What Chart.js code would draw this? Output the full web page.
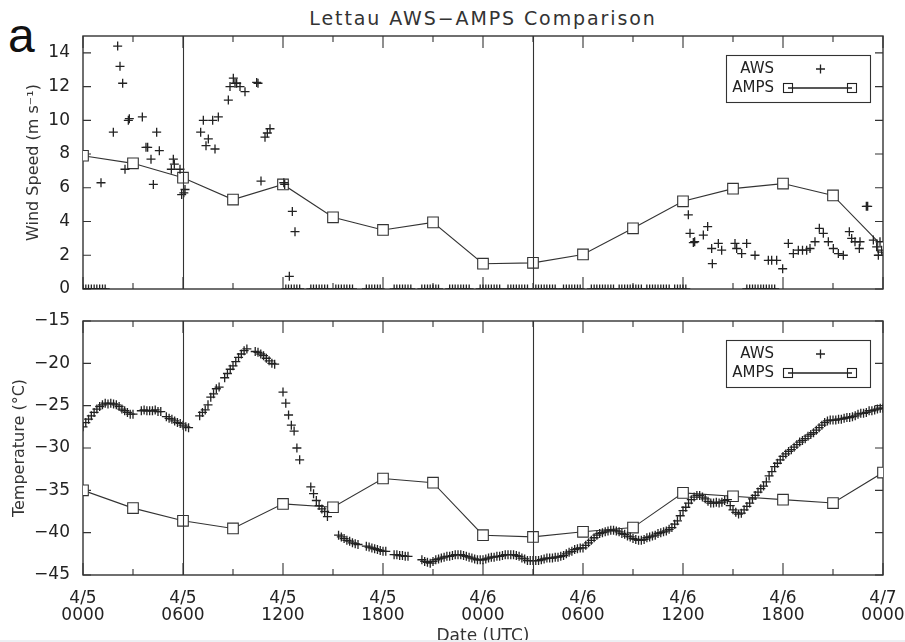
<!DOCTYPE html>
<html>
<head>
<meta charset="utf-8">
<script src="https://cdn.jsdelivr.net/npm/chart.js@4.4.0/dist/chart.umd.min.js"></script>
<style>
  body { margin: 0; background: #fff; width: 905px; height: 642px; overflow: hidden; position: relative; }
  #panel-letter { position: absolute; left: 8px; top: 12px; font: 48px/48px "Liberation Sans", sans-serif; color: #111; }
  #plot-title { position: absolute; left: 83px; width: 800px; top: 9px; text-align: center;
    font: 19px/19px "DejaVu Sans", sans-serif; letter-spacing: 1.9px; color: #333; }
  canvas { position: absolute; left: 0; }
  #wind-chart { top: 0; }
  #temp-chart { top: 305px; }
  #bottom-strip { position: absolute; left: 0; top: 640px; width: 905px; height: 2px; background: #eceff3; }
</style>
</head>
<body>
<div id="panel-letter">a</div>
<div id="plot-title">Lettau AWS−AMPS Comparison</div>
<canvas id="wind-chart" width="905" height="300"></canvas>
<canvas id="temp-chart" width="905" height="345"></canvas>
<div id="bottom-strip"></div>
<script>
// hours since 4/5 0000 UTC
const majorHours = [0, 6, 12, 18, 24, 30, 36, 42, 48];
const minorHours = [3, 9, 15, 21, 27, 33, 39, 45];
const dateLabels = [
  ["4/5", "0000"], ["4/5", "0600"], ["4/5", "1200"], ["4/5", "1800"],
  ["4/6", "0000"], ["4/6", "0600"], ["4/6", "1200"], ["4/6", "1800"], ["4/7", "0000"],
];
const dividerHours = [6, 27];
const windTicks = [0, 2, 4, 6, 8, 10, 12, 14];
const tempTicks = [-45, -40, -35, -30, -25, -20, -15];

// AMPS output every 3 h
const ampsHours = [0, 3, 6, 9, 12, 15, 18, 21, 24, 27, 30, 33, 36, 39, 42, 45, 48];
const ampsWind = [7.9, 7.45, 6.6, 5.3, 6.2, 4.25, 3.5, 3.95, 1.5, 1.55, 2.05, 3.6, 5.2, 5.95, 6.25, 5.55, 2.5];
const ampsTemp = [-35.0, -37.1, -38.6, -39.5, -36.6, -37.0, -33.6, -34.1, -40.3, -40.5, -39.9, -39.4, -35.3, -35.7, -36.1, -36.5, -32.9];

// AWS wind, non-calm reports
const awsWindHours = [
  1.08, 1.82, 2.08, 2.22, 2.38, 2.52, 2.72, 2.78, 3.56, 3.78, 3.88, 4.08, 4.22, 4.42, 4.58,
  5.3, 5.42, 5.48, 5.82, 5.92, 6.05, 6.12,
  7.06, 7.22, 7.38, 7.52, 7.78, 7.92, 8.12, 8.72, 8.82, 9.02, 9.12, 9.22, 9.42, 9.72,
  10.42, 10.5, 10.68, 10.92, 11.06, 11.22, 12.05, 12.1, 12.38, 12.56, 12.72,
  36.32, 36.42, 36.62, 36.7, 37.22, 37.48, 37.72, 37.76, 38.12, 38.32, 39.12, 39.22, 39.52, 39.82,
  40.32, 41.12, 41.32, 41.62, 41.98, 42.32, 42.62, 42.92, 43.17, 43.42, 43.62, 43.92, 44.18, 44.42,
  44.72, 45.02, 45.32, 45.62, 45.98, 46.12, 46.32, 46.58, 46.62, 47.0, 47.08, 47.42, 47.62, 47.72,
  47.82, 47.92,
];
const awsWindSpeed = [
  6.3, 9.3, 14.4, 13.2, 12.2, 7.1, 10.0, 10.1, 10.2, 8.4, 8.4, 7.7, 6.2, 9.3, 8.2,
  7.1, 7.7, 7.4, 7.1, 5.6, 5.7, 5.9,
  9.3, 10.0, 8.5, 8.9, 10.0, 8.3, 10.2, 11.2, 12.0, 12.5, 12.2, 12.2, 12.0, 11.7,
  12.25, 12.2, 6.4, 9.0, 9.25, 9.5, 6.3, 6.2, 0.75, 4.6, 3.4,
  4.4, 3.3, 2.75, 2.8, 3.2, 3.7, 2.4, 1.5, 2.7, 2.3, 2.7, 2.4, 2.1, 2.7,
  2.0, 1.7, 1.7, 1.7, 1.2, 2.7, 2.1, 2.3, 2.3, 2.3, 2.4, 2.8, 3.6, 3.3,
  2.8, 2.4, 2.1, 2.0, 3.4, 3.0, 2.8, 2.4, 2.8, 4.9, 4.9, 2.9, 2.5, 2.0,
  2.8, 2.3,
];
// AWS wind, calm (0 m/s) reports
const awsCalmHours = [
  0, 0.17, 0.33, 0.5, 0.67, 0.83, 1.0, 1.17, 1.33,
  12.17, 12.33, 12.5, 12.67, 12.83, 13.0,
  13.67, 13.83, 14.0, 14.17, 14.33, 14.5, 14.67,
  15.17, 15.33, 15.5, 15.67, 15.83, 16.0, 16.17,
  17.0, 17.17, 17.33, 17.5, 17.67, 17.83,
  18.67, 18.83, 19.0, 19.17, 19.33, 19.5, 19.67,
  20.33, 20.5, 20.67, 20.83, 21.0, 21.17, 21.33,
  22.0, 22.17, 22.33, 22.5, 22.67, 22.83, 23.0, 23.17,
  23.83, 24.0, 24.17, 24.33, 24.5, 24.67, 24.83, 25.0,
  25.5, 25.67, 25.83, 26.0, 26.17, 26.33, 26.5, 26.67,
  27.17, 27.33, 27.5, 27.67, 27.83, 28.0, 28.17, 28.33,
  28.83, 29.0, 29.17, 29.33, 29.5, 29.67, 29.83,
  30.5, 30.67, 30.83, 31.0, 31.17, 31.33, 31.5, 31.67, 31.83,
  32.17, 32.33, 32.5, 32.67, 32.83, 33.0, 33.17, 33.33, 33.5,
  33.83, 34.0, 34.17, 34.33, 34.5, 34.67, 34.83, 35.0, 35.17,
  35.5, 35.67, 35.83, 36.0, 36.17,
  39.83, 40.0, 40.17, 40.33, 40.5, 40.67, 40.83, 41.0, 41.17, 41.33, 41.5,
];

// AWS temperature, 10-minute records (null = missing)
const awsTempStep = 1 / 6;
const awsTemp = [
  -27.5, -27.0, -26.6, -26.2, -25.8, -25.4,
  -25.1, -24.9, -24.7, -24.8, -24.7, -24.8,
  -24.9, -25.1, -25.4, -25.6, -25.8, -26.0,
  -26.0, null, null, -25.6, -25.5, -25.6,
  -25.6, -25.6, -25.5, -25.7, -25.7, null,
  -26.3, -26.5, -26.6, -26.8, -27.0, -27.1,
  -27.3, -27.5, -27.6, null, null, null,
  -26.2, -25.8, -25.5, -24.9, -24.0, -23.6,
  -23.0, -22.8, null, -21.7, -21.2, -20.7,
  -20.3, -19.8, -19.3, -18.9, -18.5, -18.3,
  null, null, -18.6, -18.7, -18.9, -19.1,
  -19.4, -19.7, -20.0, -20.1, null, null,
  -23.4, -24.7, -26.1, -27.3, -28.0, -30.0,
  -31.4, null, null, null, -34.6, -35.4,
  -36.2, -36.8, -37.2, -37.5, -38.1, null,
  null, null, -40.3, -40.5, -40.7, -40.9,
  -41.0, -41.2, -41.3, -41.4, null, null,
  -41.6, -41.7, -41.8, -41.9, -42.0, -42.1,
  -42.2, -42.2, null, null, -42.6, -42.6,
  -42.7, -42.7, -42.8, -42.8, null, null,
  null, null, -43.2, -43.4, -43.5, -43.6,
  -43.4, -43.2, -43.1, -43.0, -42.9, -42.8,
  -42.8, -42.7, -42.6, -42.6, -42.6, -42.7,
  -42.8, -42.9, -43.0, -43.1, -43.2, -43.2,
  -43.2, -43.1, -43.0, -42.9, -42.9, -42.8,
  -42.8, -42.7, -42.6, -42.6, -42.6, -42.6,
  -42.7, -42.8, -43.0, -43.1, -43.3, -43.3,
  -43.3, -43.3, -43.3, -43.2, -43.1, -43.0,
  -43.0, -43.0, -42.9, -42.9, -42.8, -42.7,
  -42.5, -42.3, -42.2, -42.0, -41.9, -41.8,
  -41.8, -41.5, -41.2, -40.9, -40.6, -40.3,
  -40.1, -40.0, -39.9, -39.8, -39.7, -39.7,
  -39.8, -39.9, -40.1, -40.2, -40.4, -40.5,
  -40.7, -40.8, -40.9, -40.9, -40.8, -40.6,
  -40.5, -40.4, -40.3, -40.1, -40.0, -39.9,
  -39.8, -39.6, -39.4, -39.0, -38.6, -38.0,
  -37.4, -37.0, -36.5, -36.1, -35.8, -35.6,
  -35.6, -35.8, -36.0, -36.3, -36.5, -36.5,
  -36.4, -36.5, -36.4, -36.2, -36.1, -36.8,
  -37.3, -37.6, -37.8, -37.7, -37.3, -36.9,
  -36.5, -36.0, -35.6, -35.2, -34.8, -34.5,
  -34.0, -33.3, -32.8, -32.2, -31.8, -31.4,
  -31.0, -30.7, -30.4, -30.2, -29.9, -29.6,
  -29.3, -29.1, -28.9, -28.6, -28.4, -28.2,
  -27.9, -27.6, -27.3, -27.0, -26.8, -26.7,
  -26.7, -26.7, -26.6, -26.6, -26.5, -26.4,
  -26.4, -26.3, -26.2, -26.0, -25.9, -25.9,
  -25.8, -25.6, -25.6, -25.5, -25.4, -25.3,
  -25.3,
];

const ink = "#222";
const tickFont = { family: "DejaVu Sans", size: 17, lineHeight: 1.0 };

// IDL-style box: frame, inward ticks on all four sides, and the two divider lines
const axesBox = {
  id: "axesBox",
  beforeDatasetsDraw(chart) {
    const { ctx, chartArea: { left, right, top, bottom }, scales: { x, y } } = chart;
    ctx.save();
    ctx.strokeStyle = "#333";
    ctx.lineWidth = 1.4;
    ctx.strokeRect(left, top, right - left, bottom - top);
    ctx.lineWidth = 1.1;
    ctx.beginPath();
    majorHours.concat(minorHours).forEach((h) => {
      const px = x.getPixelForValue(h);
      const len = majorHours.includes(h) ? 12 : 6;
      ctx.moveTo(px, bottom);
      ctx.lineTo(px, bottom - len);
      ctx.moveTo(px, top);
      ctx.lineTo(px, top + len);
    });
    y.ticks.forEach((t) => {
      const py = y.getPixelForValue(t.value);
      ctx.moveTo(left, py);
      ctx.lineTo(left + 8, py);
      ctx.moveTo(right, py);
      ctx.lineTo(right - 8, py);
    });
    ctx.stroke();
    ctx.restore();
  },
  afterDatasetsDraw(chart) {
    const { ctx, chartArea: { top, bottom }, scales: { x } } = chart;
    ctx.save();
    ctx.strokeStyle = "#333";
    ctx.lineWidth = 1.1;
    ctx.beginPath();
    dividerHours.forEach((h) => {
      const px = Math.round(x.getPixelForValue(h)) + 0.5;
      ctx.moveTo(px, top);
      ctx.lineTo(px, bottom);
    });
    ctx.stroke();
    ctx.restore();
  },
};

// boxed key in the upper right: label on the left, symbol on the right
const boxKey = {
  id: "boxKey",
  afterDraw(chart) {
    const { ctx, chartArea: { right, top } } = chart;
    const sets = chart.data.datasets;
    const bx = right - 157, by = top + 19;
    ctx.save();
    ctx.fillStyle = "#fff";
    ctx.fillRect(bx, by, 144, 47);
    ctx.strokeStyle = "#333";
    ctx.lineWidth = 1.1;
    ctx.strokeRect(bx + 0.5, by + 0.5, 144, 47);
    ctx.fillStyle = ink;
    ctx.font = '15px "DejaVu Sans"';
    ctx.textAlign = "right";
    ctx.textBaseline = "middle";
    ctx.fillText(sets[0].label, bx + 48, by + 14);
    ctx.fillText(sets[1].label, bx + 48, by + 33);
    ctx.strokeStyle = ink;
    ctx.lineWidth = 1.3;
    ctx.beginPath();
    ctx.moveTo(bx + 90, by + 14);
    ctx.lineTo(bx + 99, by + 14);
    ctx.moveTo(bx + 94.5, by + 9.5);
    ctx.lineTo(bx + 94.5, by + 18.5);
    ctx.moveTo(bx + 62, by + 33);
    ctx.lineTo(bx + 126, by + 33);
    ctx.stroke();
    ctx.lineWidth = 1.1;
    ctx.strokeRect(bx + 57.5, by + 28.5, 9, 9);
    ctx.strokeRect(bx + 121.5, by + 28.5, 9, 9);
    ctx.restore();
  },
};

function awsStyle(points) {
  return {
    label: "AWS",
    data: points,
    showLine: false,
    pointStyle: "cross",
    pointRadius: 4.5,
    pointBorderWidth: 1.3,
    borderColor: ink,
    backgroundColor: ink,
    clip: 0,
  };
}

function ampsStyle(values) {
  return {
    label: "AMPS",
    data: ampsHours.map((h, i) => ({ x: h, y: values[i] })),
    showLine: true,
    borderColor: "#333",
    borderWidth: 1.1,
    pointStyle: "rect",
    pointRadius: 7.5,
    pointBorderWidth: 1.1,
    pointBorderColor: "#333",
    pointBackgroundColor: "#fff",
    clip: 0,
  };
}

function makePanel(canvasId, opts) {
  const ctx = document.getElementById(canvasId).getContext("2d");
  return new Chart(ctx, {
    type: "scatter",
    data: { datasets: opts.datasets },
    options: {
      responsive: false,
      animation: false,
      events: [],
      layout: { padding: opts.padding },
      plugins: { legend: { display: false }, tooltip: { enabled: false } },
      scales: {
        x: {
          type: "linear",
          min: 0,
          max: 48,
          display: opts.showDates,
          grid: { display: false },
          border: { display: false },
          afterBuildTicks: (scale) => {
            scale.ticks = majorHours.map((h) => ({ value: h }));
          },
          afterFit: (scale) => {
            // keep the plot box fixed; end labels may hang past it
            scale.height = opts.dateHeight;
            scale.paddingLeft = 0;
            scale.paddingRight = 0;
          },
          ticks: {
            autoSkip: false,
            maxRotation: 0,
            padding: 7,
            color: ink,
            font: tickFont,
            callback: (v, i) => dateLabels[i],
          },
          title: {
            display: true,
            text: "Date (UTC)",
            color: "#333",
            font: { family: "DejaVu Sans", size: 17 },
            padding: { top: 0, bottom: 3 },
          },
        },
        y: {
          type: "linear",
          min: opts.yMin,
          max: opts.yMax,
          grid: { display: false },
          border: { display: false },
          afterBuildTicks: (scale) => {
            scale.ticks = opts.yTicks.map((v) => ({ value: v }));
          },
          afterFit: (scale) => {
            scale.width = 83;
            scale.paddingTop = 0;
            scale.paddingBottom = 0;
          },
          ticks: {
            padding: 5,
            color: ink,
            font: tickFont,
            callback: (v) => (v < 0 ? "\u2212" + Math.abs(v) : String(v)),
          },
          title: {
            display: true,
            text: opts.yTitle,
            color: "#333",
            font: { family: "DejaVu Sans", size: 16 },
            padding: { top: opts.yTitlePad, bottom: 0 },
          },
        },
      },
    },
    plugins: [axesBox, boxKey],
  });
}

let windPoints = awsWindHours
  .map((h, i) => ({ x: h, y: awsWindSpeed[i] }))
  .concat(awsCalmHours.map((h) => ({ x: h, y: 0 })));

let tempPoints = awsTemp
  .map((t, i) => ({ x: i * awsTempStep, y: t }))
  .filter((p) => p.y !== null);

makePanel("wind-chart", {
  datasets: [awsStyle(windPoints), ampsStyle(ampsWind)],
  padding: { top: 36, right: 22, bottom: 11, left: 0 },
  showDates: false,
  dateHeight: 0,
  yMin: 0,
  yMax: 15,
  yTicks: windTicks,
  yTitle: "Wind Speed (m s\u207B\u00B9)",
  yTitlePad: 24,
});

makePanel("temp-chart", {
  datasets: [awsStyle(tempPoints), ampsStyle(ampsTemp)],
  padding: { top: 16, right: 22, bottom: 0, left: 0 },
  showDates: true,
  dateHeight: 75,
  yMin: -45,
  yMax: -15,
  yTicks: tempTicks,
  yTitle: "Temperature (\u00B0C)",
  yTitlePad: 10,
});
</script>
</body>
</html>
